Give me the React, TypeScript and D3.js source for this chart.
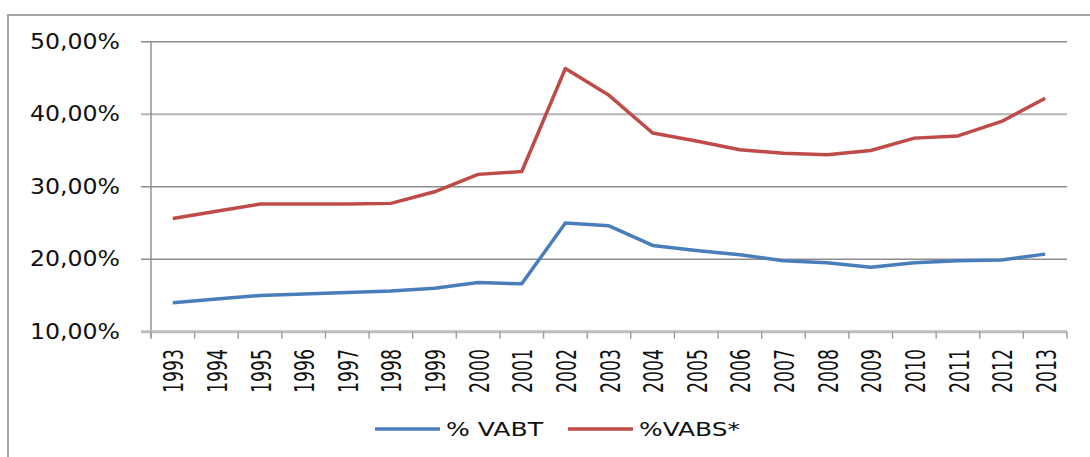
import React from "react";
import * as d3 from "d3";

const years = [
  "1993", "1994", "1995", "1996", "1997", "1998", "1999", "2000", "2001", "2002", "2003",
  "2004", "2005", "2006", "2007", "2008", "2009", "2010", "2011", "2012", "2013",
];

const vabt = [
  14.0, 14.5, 15.0, 15.2, 15.4, 15.6, 16.0, 16.8, 16.6, 25.0, 24.6,
  21.9, 21.2, 20.6, 19.8, 19.5, 18.9, 19.5, 19.8, 19.9, 20.7,
];

const vabs = [
  25.6, 26.6, 27.6, 27.6, 27.6, 27.7, 29.3, 31.7, 32.1, 46.3, 42.6,
  37.4, 36.3, 35.1, 34.6, 34.4, 35.0, 36.7, 37.0, 39.0, 42.2,
];

const yTicks = [10, 20, 30, 40, 50];

const seriesNames = ["% VABT", "%VABS*"];
const seriesColors = ["#4a7ebb", "#be4b48"];

const W = 1090;
const H = 457;
const plot = { left: 151, right: 1067, top: 41.7, bottom: 331.7 };

const App: React.FC = () => {
  const svgRef = React.useRef<SVGSVGElement>(null);

  React.useEffect(() => {
    const svgEl = d3.select(svgRef.current);
    svgEl.selectAll("*").remove();

    svgEl.append("rect").attr("width", W).attr("height", H).attr("fill", "white");

    // outer chart border (only top and left visible)
    svgEl
      .append("rect")
      .attr("x", 8)
      .attr("y", 15)
      .attr("width", 1200)
      .attr("height", 600)
      .attr("fill", "none")
      .attr("stroke", "#a6a6a6")
      .attr("stroke-width", 2);

    const xScale = d3
      .scaleBand<string>()
      .domain(years)
      .range([plot.left, plot.right])
      .padding(0);

    const yScale = d3
      .scaleLinear()
      .domain([10, 50])
      .range([plot.bottom, plot.top]);

    // gridlines
    svgEl
      .append("g")
      .selectAll("line")
      .data(yTicks.filter((t) => t > 10))
      .join("line")
      .attr("x1", plot.left - 10)
      .attr("x2", plot.right)
      .attr("y1", (d) => yScale(d))
      .attr("y2", (d) => yScale(d))
      .attr("stroke", (d) => (d === 40 ? "#b4b4b4" : "#8c8c8c"))
      .attr("stroke-width", (d) => (d === 40 ? 2 : 1.4));

    // y axis line
    svgEl
      .append("line")
      .attr("x1", plot.left)
      .attr("x2", plot.left)
      .attr("y1", plot.top)
      .attr("y2", plot.bottom + 6)
      .attr("stroke", "#8c8c8c")
      .attr("stroke-width", 1.4);

    // x axis line
    svgEl
      .append("line")
      .attr("x1", plot.left - 10)
      .attr("x2", plot.right)
      .attr("y1", plot.bottom)
      .attr("y2", plot.bottom)
      .attr("stroke", "#bdbdbd")
      .attr("stroke-width", 3);

    // x tick marks at band edges
    const edges = years.map((y) => xScale(y)!).concat([plot.right]);
    svgEl
      .append("g")
      .selectAll("line")
      .data(edges)
      .join("line")
      .attr("x1", (d) => d)
      .attr("x2", (d) => d)
      .attr("y1", plot.bottom)
      .attr("y2", plot.bottom + 7)
      .attr("stroke", "#9a9a9a")
      .attr("stroke-width", 1.4);

    // y tick labels
    svgEl
      .append("g")
      .selectAll("text")
      .data(yTicks)
      .join("text")
      .attr("x", 30)
      .attr("y", (d) => yScale(d) + 7)
      .attr("textLength", 90)
      .attr("lengthAdjust", "spacingAndGlyphs")
      .attr("font-family", "DejaVu Sans")
      .attr("font-size", 21)
      .attr("fill", "#111")
      .text((d) => `${d},00%`);

    // x tick labels (rotated, stretched across)
    svgEl
      .append("g")
      .selectAll("text")
      .data(years)
      .join("text")
      .attr(
        "transform",
        (d) =>
          `translate(${xScale(d)! + xScale.bandwidth() / 2 + 1},349) rotate(-90) scale(1,1.6)`
      )
      .attr("text-anchor", "end")
      .attr("dominant-baseline", "central")
      .attr("textLength", 44)
      .attr("lengthAdjust", "spacingAndGlyphs")
      .attr("font-family", "DejaVu Sans")
      .attr("font-size", 17)
      .attr("fill", "#111")
      .text((d) => d);

    // lines
    const lineDef = d3
      .line<number>()
      .x((d, i) => xScale(years[i])! + xScale.bandwidth() / 2)
      .y((d) => yScale(d));

    [vabt, vabs].forEach((s, k) => {
      svgEl
        .append("path")
        .attr("d", lineDef(s))
        .attr("fill", "none")
        .attr("stroke", seriesColors[k])
        .attr("stroke-width", 3.5)
        .attr("stroke-linejoin", "round");
    });

    // legend
    const legendX = [375, 568];
    const legendW = [97, 101];
    seriesNames.forEach((name, k) => {
      const g = svgEl.append("g");
      g.append("line")
        .attr("x1", legendX[k])
        .attr("x2", legendX[k] + 65)
        .attr("y1", 429)
        .attr("y2", 429)
        .attr("stroke", seriesColors[k])
        .attr("stroke-width", 3.5);
      g.append("text")
        .attr("x", legendX[k] + 71)
        .attr("y", 436)
        .attr("textLength", legendW[k])
        .attr("lengthAdjust", "spacingAndGlyphs")
        .attr("font-family", "DejaVu Sans")
        .attr("font-size", 20)
        .attr("fill", "#111")
        .text(name);
    });
  }, []);

  return (
    <svg
      ref={svgRef}
      width={W}
      height={H}
      style={{ position: "absolute", left: 0, top: 0 }}
    />
  );
};

export default App;
